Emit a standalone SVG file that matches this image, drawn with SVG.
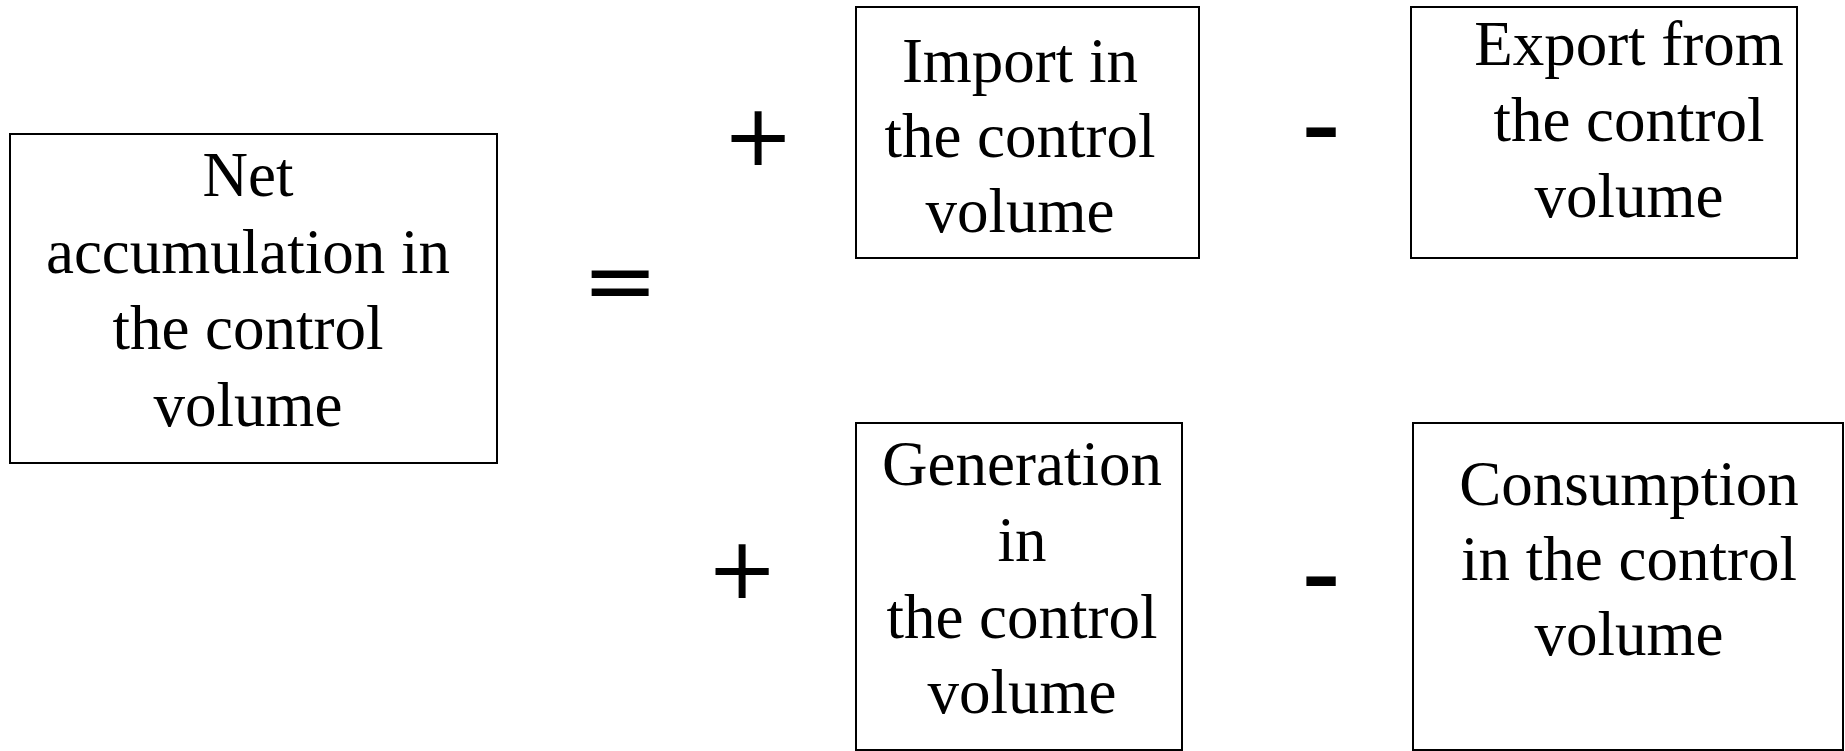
<svg xmlns="http://www.w3.org/2000/svg" width="1845" height="751" viewBox="0 0 1845 751">
  <style>
    .box { fill: #ffffff; stroke: #000000; stroke-width: 2; }
    .lbl { font-family: "Liberation Serif", "Times New Roman", serif; font-size: 63px; fill: #000000; text-anchor: middle; }
    .op { font-family: "Liberation Serif", "Times New Roman", serif; font-weight: bold; font-size: 113px; fill: #000000; text-anchor: middle; }
    .sym { font-family: "DejaVu Sans", sans-serif; fill: #000000; text-anchor: middle; }
  </style>
  <rect x="0" y="0" width="1845" height="751" fill="#ffffff"/>
  <g id="connectors"></g>
  <g id="net-accumulation">
    <rect class="box" x="10" y="134" width="487" height="329"/>
    <text class="lbl" x="248" y="196">Net</text>
    <text class="lbl" x="248" y="273">accumulation in</text>
    <text class="lbl" x="248" y="349">the control</text>
    <text class="lbl" x="248" y="426">volume</text>
  </g>
  <g id="equals">
    <text class="sym" x="620" y="312" font-size="91">=</text>
  </g>
  <g id="plus-import">
    <text class="sym" x="758" y="165" font-size="85">+</text>
  </g>
  <g id="import">
    <rect class="box" x="856" y="7" width="343" height="251"/>
    <text class="lbl" x="1020" y="82">Import in</text>
    <text class="lbl" x="1020" y="157">the control</text>
    <text class="lbl" x="1020" y="232">volume</text>
  </g>
  <g id="minus-export">
    <text class="op" x="1321" y="159">-</text>
  </g>
  <g id="export">
    <rect class="box" x="1411" y="7" width="386" height="251"/>
    <text class="lbl" x="1629" y="65">Export from</text>
    <text class="lbl" x="1629" y="141">the control</text>
    <text class="lbl" x="1629" y="217">volume</text>
  </g>
  <g id="plus-generation">
    <text class="sym" x="742" y="598" font-size="85">+</text>
  </g>
  <g id="generation">
    <rect class="box" x="856" y="423" width="326" height="327"/>
    <text class="lbl" x="1022" y="485">Generation</text>
    <text class="lbl" x="1022" y="561">in</text>
    <text class="lbl" x="1022" y="638">the control</text>
    <text class="lbl" x="1022" y="713">volume</text>
  </g>
  <g id="minus-consumption">
    <text class="op" x="1321" y="608">-</text>
  </g>
  <g id="consumption">
    <rect class="box" x="1413" y="423" width="430" height="327"/>
    <text class="lbl" x="1629" y="505">Consumption</text>
    <text class="lbl" x="1629" y="580">in the control</text>
    <text class="lbl" x="1629" y="655">volume</text>
  </g>
</svg>
